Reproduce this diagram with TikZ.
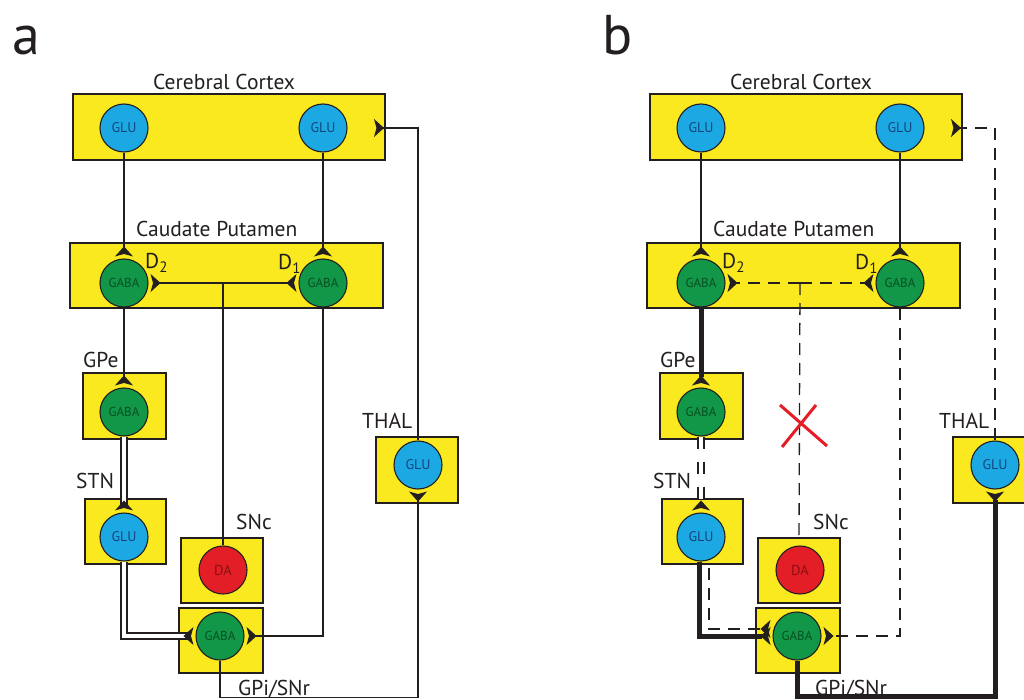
\documentclass[tikz,border=0pt]{standalone}
\usepackage{fontspec}
\setmainfont{PT Sans}
\usetikzlibrary{arrows.meta}
\definecolor{cyel}{RGB}{250,233,30}
\definecolor{cblue}{RGB}{28,168,226}
\definecolor{cgreen}{RGB}{18,150,72}
\definecolor{cred}{RGB}{228,30,38}
\definecolor{tblue}{RGB}{20,70,125}
\definecolor{tgreen}{RGB}{8,80,35}
\definecolor{tred}{RGB}{140,15,20}
\definecolor{ink}{RGB}{35,31,32}
\begin{document}
\begin{tikzpicture}[x=1pt,y=-1pt,
 box/.style={draw=ink,line width=1.8pt,fill=cyel,inner sep=0pt},
 cell/.style={circle,draw=ink,line width=1.1pt,minimum size=48pt,inner sep=0pt},
 glu/.style={cell,fill=cblue,text=tblue,font=\fontsize{14}{16}\selectfont},
 gaba/.style={cell,fill=cgreen,text=tgreen,font=\fontsize{13}{15}\selectfont},
 da/.style={cell,fill=cred,text=tred,font=\fontsize{14.5}{16}\selectfont},
 lbl/.style={anchor=base west,inner sep=0pt,text=ink,font=\fontsize{21.5}{24}\selectfont},
 big/.style={anchor=base west,inner sep=0pt,text=ink,font=\fontsize{56}{60}\selectfont},
 ax/.style={draw=ink,line width=1.3pt},
 fatax/.style={draw=ink,line width=5pt},
 dax/.style={draw=ink,line width=1.3pt,dash pattern=on 12pt off 8pt},
 dbl/.style={draw=ink,line width=1.3pt,double=white,double distance=4.5pt},
 ddbl/.style={dbl,dash pattern=on 12pt off 13pt},
 syn/.style={-{Stealth[reversed,length=10pt,width=18pt,inset=2.5pt]},shorten >=2pt},
]
\useasboundingbox (0,0) rectangle (1024,700);
\fill[white] (0,0) rectangle (1024,700);

% ================= panel a =================
\node[big] (la) at (12,55) {a};
\node[box,minimum width=312pt,minimum height=66pt] (ctxA) at (229,127) {};
\node[lbl] (ctxAl) at (153,90) {Cerebral Cortex};
\node[glu] (gluA1) at (124,128) {GLU};
\node[glu] (gluA2) at (323,128) {GLU};
\coordinate (ctxTA) at (372,128);

\node[box,minimum width=313pt,minimum height=65pt] (cpA) at (226.5,275.5) {};
\node[lbl] (cpAl) at (136,237) {Caudate Putamen};
\node[gaba] (gabaA1) at (124,283) {GABA};
\node[gaba] (gabaA2) at (323,283) {GABA};
\node[lbl] (d2A) at (145,269) {D\textsubscript{2}};
\node[lbl] (d1A) at (278,270) {D\textsubscript{1}};
\coordinate (jA) at (223,283);

\node[box,minimum width=83pt,minimum height=66pt] (gpeA) at (124.5,406) {};
\node[lbl] (gpeAl) at (83,367) {GPe};
\node[gaba] (gpeAc) at (124,412) {GABA};

\node[box,minimum width=81pt,minimum height=65pt] (stnA) at (125.5,531.5) {};
\node[lbl] (stnAl) at (76,488) {STN};
\node[glu] (stnAc) at (124,537) {GLU};

\node[box,minimum width=82pt,minimum height=65pt] (sncA) at (222,570.5) {};
\node[lbl] (sncAl) at (236,529) {SNc};
\node[da] (sncAc) at (223,570) {DA};

\node[box,minimum width=84pt,minimum height=65pt] (gpiA) at (221,640.5) {};
\node[lbl] (gpiAl) at (238,695) {GPi/SNr};
\node[gaba] (gpiAc) at (220,636) {GABA};

\node[box,minimum width=82pt,minimum height=66pt] (thA) at (417,470) {};
\node[lbl] (thAl) at (362,428) {THAL};
\node[glu] (thAc) at (418,465) {GLU};

\draw[ax,syn] (gluA1) -- (gabaA1);
\draw[ax,syn] (gluA2) -- (gabaA2);
\draw[ax,syn] (gabaA1) -- (gpeAc);
\draw[dbl,syn] (gpeAc) -- (stnAc);
\draw[dbl,syn] (stnAc.south) |- (gpiAc.west);
\draw[ax,syn] (gabaA2.south) |- (gpiAc.east);
\draw[ax] (sncAc.north) -- (jA);
\draw[ax,syn] (jA) -- (gabaA1.east);
\draw[ax,syn] (jA) -- (gabaA2.west);
\draw[ax,syn] (gpiAc.south) -- ++(0,37) -| (thAc.south);
\draw[ax,syn] (thAc.north) |- (ctxTA);

% ================= panel b =================
\node[big] (lb) at (602,55) {b};
\begin{scope}[xshift=577pt]
\node[box,minimum width=312pt,minimum height=66pt] (ctxB) at (229,127) {};
\node[lbl] (ctxBl) at (153,90) {Cerebral Cortex};
\node[glu] (gluB1) at (124,128) {GLU};
\node[glu] (gluB2) at (323,128) {GLU};
\coordinate (ctxTB) at (372,128);

\node[box,minimum width=313pt,minimum height=65pt] (cpB) at (226.5,275.5) {};
\node[lbl] (cpBl) at (136,237) {Caudate Putamen};
\node[gaba] (gabaB1) at (124,283) {GABA};
\node[gaba] (gabaB2) at (323,283) {GABA};
\node[lbl] (d2B) at (145,269) {D\textsubscript{2}};
\node[lbl] (d1B) at (278,270) {D\textsubscript{1}};
\coordinate (jB) at (223,283);

\node[box,minimum width=83pt,minimum height=66pt] (gpeB) at (124.5,406) {};
\node[lbl] (gpeBl) at (83,367) {GPe};
\node[gaba] (gpeBc) at (124,412) {GABA};

\node[box,minimum width=81pt,minimum height=65pt] (stnB) at (125.5,531.5) {};
\node[lbl] (stnBl) at (76,488) {STN};
\node[glu] (stnBc) at (124,537) {GLU};

\node[box,minimum width=82pt,minimum height=65pt] (sncB) at (222,570.5) {};
\node[lbl] (sncBl) at (236,529) {SNc};
\node[da] (sncBc) at (223,570) {DA};

\node[box,minimum width=84pt,minimum height=65pt] (gpiB) at (221,640.5) {};
\node[lbl] (gpiBl) at (238,695) {GPi/SNr};
\node[gaba] (gpiBc) at (220,636) {GABA};

\node[box,minimum width=82pt,minimum height=66pt] (thB) at (417,470) {};
\node[lbl] (thBl) at (362,428) {THAL};
\node[glu] (thBc) at (418,465) {GLU};

\draw[ax,syn] (gluB1) -- (gabaB1);
\draw[ax,syn] (gluB2) -- (gabaB2);
\draw[fatax,syn] (gabaB1) -- (gpeBc);
\draw[ddbl,syn] (gpeBc) -- (stnBc);
\draw[dax,syn] ([xshift=8pt,yshift=-6pt]stnBc.south) |- ([yshift=7pt]gpiBc.west);
\draw[fatax,syn] ([xshift=-2pt]stnBc.south) |- (gpiBc.west);
\draw[dax,syn] (gabaB2.south) |- (gpiBc.east);
\draw[dax] (jB) -- (sncB.north);
\draw[dax,syn] (jB) -- (gabaB1.east);
\draw[dax,syn] (jB) -- (gabaB2.west);
\draw[fatax,syn] (gpiBc.south) -- ++(0,36) -| (thBc.south);
\draw[dax,syn] (thBc.north) |- (ctxTB);

\draw[cred,line width=3pt] (203,405) -- (250,446) (239,405) -- (205,447);
\end{scope}
\end{tikzpicture}
\end{document}
